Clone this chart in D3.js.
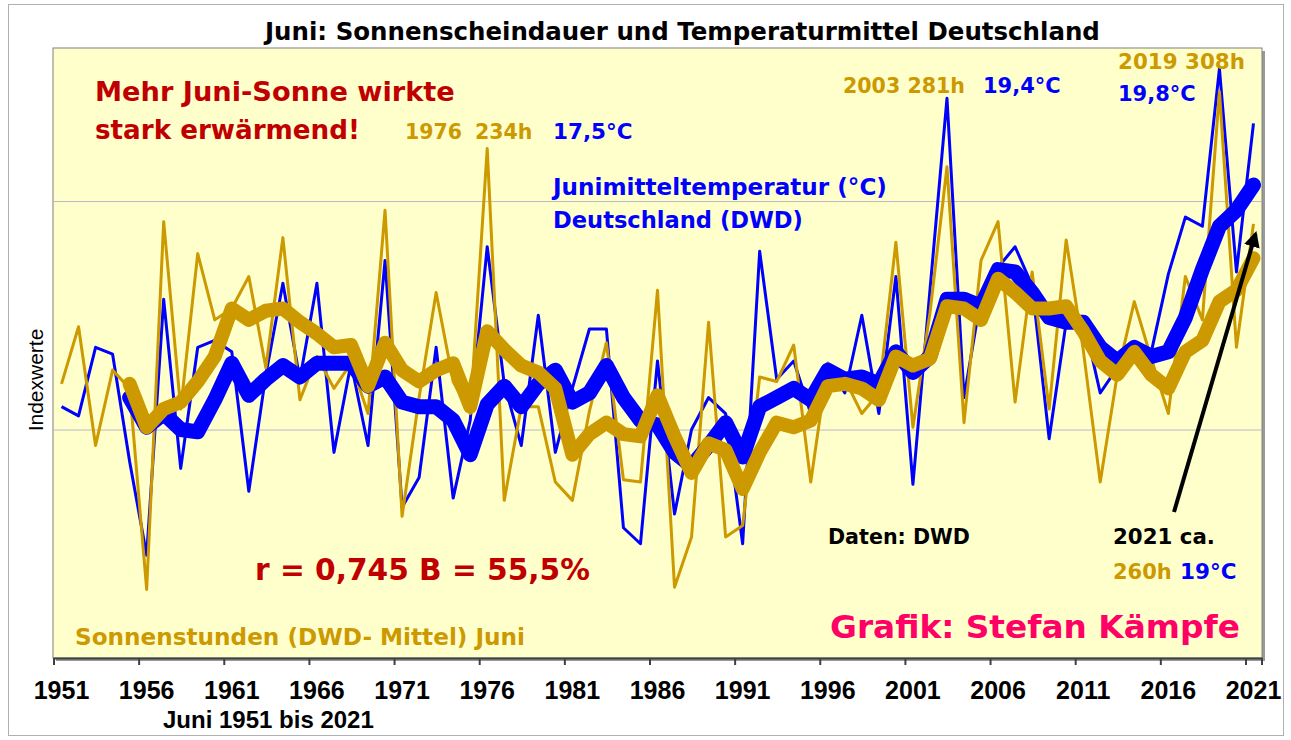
<!DOCTYPE html>
<head>
<meta charset="utf-8">
<title>Juni: Sonnenscheindauer und Temperaturmittel Deutschland</title>
<style>
   body {
       margin: 0;
       background: #ffffff;
   }
   text {
       font-family: "DejaVu Sans", Verdana, sans-serif;
       font-weight: bold;
   }
   .narrow {
       font-family: "Liberation Sans Narrow", "Arial Narrow", "Liberation Sans", sans-serif;
   }
</style>
</head>
<body>
<div id="chartDiv"></div>

<script src="https://d3js.org/d3.v7.min.js"></script>
<script>

   // Data (index values, 1951 - 2021)

   var firstYear = 1951;
   var lastYear = 2021;

   var sunHours = [12.0, 14.5, 9.3, 12.6, 11.8, 3.0, 19.1, 10.9, 17.7, 14.8,
                   15.3, 16.7, 12.7, 18.4, 11.3, 13.2, 11.8, 12.9, 10.7, 19.6,
                   6.2, 11.4, 16.0, 12.1, 10.7, 22.3, 6.9, 11.0, 11.0, 7.7,
                   6.9, 10.8, 13.8, 7.8, 7.7, 16.1, 3.1, 5.3, 14.7, 5.3,
                   5.8, 12.3, 12.1, 13.7, 7.7, 12.9, 12.2, 10.7, 11.6, 18.2,
                   10.1, 15.1, 21.5, 10.3, 17.4, 19.1, 11.2, 16.9, 10.9, 18.3,
                   13.5, 7.7, 12.4, 15.6, 13.1, 10.7, 16.7, 14.8, 24.8, 13.6,
                   19.0];

   var temperature = [11.0, 10.6, 13.6, 13.3, 8.6, 4.5, 15.7, 8.3, 13.6, 13.9,
                      13.4, 7.3, 12.4, 16.4, 12.2, 16.4, 9.0, 12.9, 9.3, 17.4,
                      6.6, 7.9, 13.6, 7.0, 10.4, 18.0, 12.0, 9.3, 15.0, 9.0,
                      11.8, 14.4, 14.4, 5.7, 5.0, 13.0, 6.3, 10.0, 11.4, 10.7,
                      5.0, 17.8, 12.2, 13.0, 10.7, 12.9, 11.6, 15.0, 10.7, 16.7,
                      7.6, 16.1, 24.5, 11.4, 15.8, 17.1, 18.0, 16.3, 9.6, 14.7,
                      14.9, 11.6, 12.7, 13.7, 13.4, 16.8, 19.3, 18.9, 25.8, 16.9,
                      23.4];

   // gleitende Mittel, ab 1955
   var smoothStart = 1955;

   var sunSmooth = [12.0, 10.1, 10.9, 11.2, 12.1, 13.2, 15.3, 14.8, 15.2, 15.3,
                    14.7, 14.2, 13.6, 13.7, 11.9, 13.8, 12.6, 12.1, 12.6, 12.9,
                    11.0, 14.3, 13.5, 12.8, 12.5, 11.8, 8.9, 9.8, 10.3, 9.8,
                    9.7, 11.5, 9.7, 8.1, 9.4, 9.1, 7.4, 9.0, 10.3, 10.1,
                    10.4, 11.9, 12.0, 11.8, 11.3, 13.2, 12.8, 13.1, 15.4, 15.3,
                    14.8, 16.6, 16.0, 15.3, 15.3, 15.4, 14.3, 13.0, 12.4, 13.4,
                    12.4, 11.8, 13.4, 13.9, 15.6, 16.1, 17.5];

   var tempSmooth = [11.4, 10.1, 10.7, 10.0, 9.9, 11.3, 12.9, 11.5, 12.2, 12.8,
                     12.3, 12.9, 12.9, 12.9, 11.9, 12.3, 11.2, 11.0, 11.0, 10.4,
                     8.9, 11.1, 11.9, 11.0, 12.0, 12.6, 11.2, 11.6, 12.8, 11.4,
                     10.4, 10.2, 9.0, 8.4, 9.3, 10.3, 8.8, 11.0, 11.4, 11.8,
                     11.3, 12.6, 12.2, 12.3, 12.0, 13.4, 12.5, 13.2, 15.7, 15.7,
                     15.4, 17.0, 16.9, 16.0, 14.9, 14.7, 14.7, 13.6, 13.0, 13.6,
                     13.2, 13.4, 14.9, 17.0, 18.9, 19.6, 20.7];

   var gridValues = [10, 20];
   var labelYears = [1951, 1956, 1961, 1966, 1971, 1976, 1981, 1986, 1991, 1996, 2001, 2006, 2011, 2016, 2021];

   var gold = "#cc9900";
   var blue = "#0000ff";
   var darkRed = "#c00000";

   var width = 1291;
   var height = 740;
   var plot = {left: 53, right: 1262, top: 48, bottom: 658};

   var svg = d3.select("#chartDiv")
     .append("svg")
       .attr("width", width)
       .attr("height", height);

   var years = d3.range(firstYear, lastYear + 1);

   var x = d3.scaleBand()
       .domain(years)
       .range([plot.left, plot.right])
       .paddingInner(0)
       .paddingOuter(0);

   var y = d3.scaleLinear()
       .domain([0, 26.7])
       .range([plot.bottom, plot.top]);

   function xc(year) { return x(year) + x.bandwidth() / 2; }

   // outer frame
   svg.append("rect")
       .attr("x", 8.5).attr("y", 4.5)
       .attr("width", 1275).attr("height", 731)
       .attr("fill", "#ffffff")
       .attr("stroke", "#b0b0b0");

   // plot area with shadow
   svg.append("rect")
       .attr("x", plot.left + 3).attr("y", plot.top + 3)
       .attr("width", plot.right - plot.left).attr("height", plot.bottom - plot.top)
       .attr("fill", "#9a9a9a");
   svg.append("rect")
       .attr("x", plot.left).attr("y", plot.top)
       .attr("width", plot.right - plot.left).attr("height", plot.bottom - plot.top)
       .attr("fill", "#ffffcc")
       .attr("stroke", "#808080")
       .attr("stroke-width", 1);

   // gridlines
   svg.append("g")
       .attr("transform", "translate(" + plot.left + ",0)")
       .call(d3.axisLeft(y).tickValues(gridValues).tickSize(-(plot.right - plot.left)).tickFormat(""))
       .call(function(g) { g.select(".domain").remove(); })
       .selectAll("line")
       .attr("stroke", "#b8b8c8");

   // x axis
   var xAxis = svg.append("g")
       .attr("transform", "translate(0," + plot.bottom + ")")
       .call(d3.axisBottom(x).tickValues(labelYears).tickSize(7).tickSizeOuter(0));

   xAxis.select(".domain").attr("stroke", "#404040").attr("stroke-width", 2);
   xAxis.selectAll(".tick line")
       .attr("transform", "translate(" + (-x.bandwidth() / 2 + 1) + ",0)")
       .attr("stroke", "#404040")
       .attr("stroke-width", 2);
   xAxis.selectAll(".tick text")
       .attr("class", "narrow")
       .attr("y", 41)
       .attr("dy", null)
       .attr("fill", "#000")
       .style("font-size", "25px")
       .style("font-weight", "bold");
   xAxis.append("line")
       .attr("x1", plot.right).attr("x2", plot.right)
       .attr("y1", 0).attr("y2", 7)
       .attr("stroke", "#404040").attr("stroke-width", 2);

   // lines
   var thin = d3.line()
       .x(function(d, i) { return xc(firstYear + i); })
       .y(function(d) { return y(d); });

   var thick = d3.line()
       .x(function(d, i) { return xc(smoothStart + i); })
       .y(function(d) { return y(d); });

   svg.append("path")
       .attr("d", thin(temperature))
       .attr("fill", "none")
       .attr("stroke", blue)
       .attr("stroke-width", 3)
       .attr("stroke-linejoin", "round");

   svg.append("path")
       .attr("d", thin(sunHours))
       .attr("fill", "none")
       .attr("stroke", gold)
       .attr("stroke-width", 3)
       .attr("stroke-linejoin", "round");

   svg.append("path")
       .attr("d", thick(tempSmooth))
       .attr("fill", "none")
       .attr("stroke", blue)
       .attr("stroke-width", 15)
       .attr("stroke-linejoin", "round")
       .attr("stroke-linecap", "round");

   svg.append("path")
       .attr("d", thick(sunSmooth))
       .attr("fill", "none")
       .attr("stroke", gold)
       .attr("stroke-width", 14)
       .attr("stroke-linejoin", "round")
       .attr("stroke-linecap", "round");

   // arrow to 2021
   svg.append("defs").append("marker")
       .attr("id", "head")
       .attr("viewBox", "0 0 10 10")
       .attr("refX", 8).attr("refY", 5)
       .attr("markerWidth", 4).attr("markerHeight", 4)
       .attr("orient", "auto")
     .append("path")
       .attr("d", "M0,0 L10,5 L0,10 z")
       .attr("fill", "#000");

   svg.append("line")
       .attr("x1", 1174).attr("y1", 512)
       .attr("x2", xc(lastYear) + 2).attr("y2", 234)
       .attr("stroke", "#000")
       .attr("stroke-width", 4)
       .attr("marker-end", "url(#head)");

   // texts, w = width they take in the original, s = fixed size
   var labels = [
       {t: "Juni: Sonnenscheindauer und Temperaturmittel Deutschland", x: 265, y: 40, w: 835, c: "#000"},
       {t: "Mehr Juni-Sonne wirkte", x: 95, y: 101, w: 360, c: darkRed},
       {t: "stark erwärmend!", x: 95, y: 139, w: 265, c: darkRed},
       {t: "1976", x: 405, y: 139, s: 20.5, c: gold},
       {t: "234h", x: 475, y: 139, s: 20.5, c: gold},
       {t: "17,5°C", x: 553, y: 139, s: 21.5, c: blue},
       {t: "2003 281h", x: 843, y: 93, w: 122, c: gold},
       {t: "19,4°C", x: 983, y: 93, s: 21, c: blue},
       {t: "2019 308h", x: 1118, y: 69, w: 127, c: gold},
       {t: "19,8°C", x: 1118, y: 101, s: 21, c: blue},
       {t: "Junimitteltemperatur (°C)", x: 553, y: 195, w: 334, c: blue},
       {t: "Deutschland (DWD)", x: 553, y: 228, w: 250, c: blue},
       {t: "Daten: DWD", x: 828, y: 544, w: 142, c: "#000"},
       {t: "2021 ca.", x: 1113, y: 544, w: 102, c: "#000"},
       {t: "260h", x: 1113, y: 579, s: 21, c: gold},
       {t: "19°C", x: 1180, y: 579, s: 21.5, c: blue},
       {t: "r = 0,745 B = 55,5%", x: 255, y: 580, w: 335, c: darkRed},
       {t: "Sonnenstunden (DWD- Mittel) Juni", x: 75, y: 645, w: 450, c: gold},
       {t: "Grafik: Stefan Kämpfe", x: 830, y: 638, w: 410, c: "#ff0066"}
   ];

   svg.selectAll("text.note")
       .data(labels)
       .enter().append("text")
       .attr("class", "note")
       .attr("x", function(d) { return d.x; })
       .attr("y", function(d) { return d.y; })
       .attr("fill", function(d) { return d.c; })
       .style("font-size", "20px")
       .text(function(d) { return d.t; })
       .each(function(d) {
           if (d.s) {
               d3.select(this).style("font-size", d.s + "px");
           } else {
               var len = this.getComputedTextLength();
               d3.select(this).style("font-size", (20 * d.w / len).toFixed(2) + "px");
           }
       });

   svg.append("text")
       .attr("transform", "translate(43,380) rotate(-90)")
       .attr("text-anchor", "middle")
       .style("font-family", "'Liberation Sans', Arial, sans-serif")
       .style("font-size", "21px")
       .style("font-weight", "normal")
       .attr("fill", "#000")
       .text("Indexwerte");

   svg.append("text")
       .attr("class", "narrow")
       .attr("x", 163).attr("y", 728)
       .style("font-size", "24px")
       .attr("fill", "#000")
       .text("Juni 1951 bis 2021");

</script>
</body>
